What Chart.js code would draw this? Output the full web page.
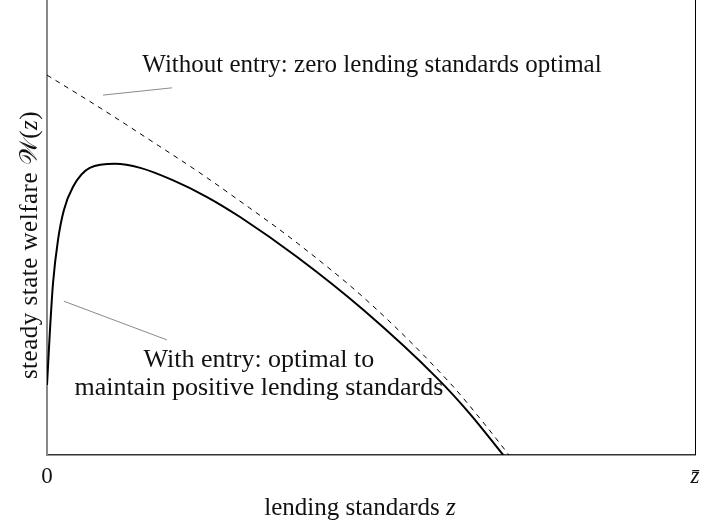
<!DOCTYPE html>
<html>
<head>
<meta charset="utf-8">
<script src="https://cdn.jsdelivr.net/npm/chart.js@4.4.1/dist/chart.umd.min.js"></script>
<style>
  body { margin: 0; background: #fff; }
  #wrap { width: 701px; height: 527px; }
</style>
</head>
<body>
<div id="wrap"><canvas id="grafico"></canvas></div>
<script>
// lending standards z (0 .. z bar = 1), welfare in arbitrary units (0 .. 1)
var zConEntrada = [0, 0.0023, 0.0046, 0.0093, 0.017, 0.026, 0.040, 0.066, 0.105, 0.144, 0.194, 0.247, 0.298, 0.386, 0.488, 0.602, 0.653, 0.704];
var wConEntrada = [0.154, 0.215, 0.275, 0.378, 0.473, 0.538, 0.589, 0.631, 0.640, 0.631, 0.604, 0.567, 0.523, 0.435, 0.319, 0.169, 0.090, 0.0];

var zSinEntrada = [0, 0.0818, 0.159, 0.236, 0.287, 0.386, 0.498, 0.622, 0.669, 0.713];
var wSinEntrada = [0.835, 0.763, 0.692, 0.620, 0.569, 0.466, 0.334, 0.158, 0.079, 0.0];

var ticksX = [0, 1];
var etiquetasX = ['0', 'z\u0304'];

// leader lines of the two notes
var lineaSin = [[0.0864, 0.791], [0.193, 0.807]];
var lineaCon = [[0.026, 0.338], [0.185, 0.253]];

var notaSin = { z: 0.5015, w: 0.842, tam: 25, lineas: ['Without entry: zero lending standards optimal'] };
var notaCon = { z: 0.327, w: 0.193, tam: 26, lineas: ['With entry: optimal to', 'maintain positive lending standards'] };

var fuente = '"Liberation Serif", "DejaVu Serif", serif';
var tam = 25;

const puntos = (xs, ys) => xs.map((x, i) => ({ x: x, y: ys[i] }));
const parLinea = (l) => l.map(p => ({ x: p[0], y: p[1] }));

// text with some italic parts: partes = [[texto, italica], ...]
function textoMixto(ctx, partes, x, y, size) {
    let total = 0;
    partes.forEach(p => {
        ctx.font = (p[1] ? 'italic ' : '') + size + 'px ' + fuente;
        total += ctx.measureText(p[0]).width;
    });
    let pos = x - total / 2;
    partes.forEach(p => {
        ctx.font = (p[1] ? 'italic ' : '') + size + 'px ' + fuente;
        ctx.fillText(p[0], pos, y);
        pos += ctx.measureText(p[0]).width;
    });
}

const extras = {
    id: 'extras',
    afterDraw(chart) {
        const ctx = chart.ctx;
        const a = chart.chartArea;
        const sx = chart.scales.x, sy = chart.scales.y;
        ctx.save();
        // right frame line
        ctx.strokeStyle = '#000';
        ctx.lineWidth = 1;
        ctx.beginPath();
        ctx.moveTo(a.right + 0.5, a.top);
        ctx.lineTo(a.right + 0.5, a.bottom);
        ctx.stroke();

        ctx.fillStyle = '#111';
        ctx.textBaseline = 'alphabetic';
        // notes
        [notaSin, notaCon].forEach(n => {
            ctx.font = n.tam + 'px ' + fuente;
            ctx.textAlign = 'center';
            let px = sx.getPixelForValue(n.z);
            let py = sy.getPixelForValue(n.w);
            n.lineas.forEach((t, i) => ctx.fillText(t, px, py + i * 28));
        });

        ctx.textAlign = 'left';
        // x title
        textoMixto(ctx, [['lending standards ', false], ['z', true]], 360, 515, tam);
        // y title
        ctx.translate(37, 245);
        ctx.rotate(-Math.PI / 2);
        ctx.letterSpacing = '0.5px';
        textoMixto(ctx, [['steady state welfare ', false], ['\uD835\uDCB2', false], ['(', false], ['z', true], [')', false]], 0, 0, tam);
        ctx.restore();
    }
};

const ctx = document.getElementById('grafico');
let grafico = new Chart(ctx, {
    type: 'line',
    data: {
        datasets: [{
            label: 'With entry',
            data: puntos(zConEntrada, wConEntrada),
            borderColor: '#000',
            borderWidth: 2,
            pointRadius: 0,
            cubicInterpolationMode: 'monotone'
        }, {
            label: 'Without entry',
            data: puntos(zSinEntrada, wSinEntrada),
            borderColor: '#000',
            borderWidth: 1,
            borderDash: [5, 5],
            pointRadius: 0,
            cubicInterpolationMode: 'monotone'
        }, {
            label: 'nota sin',
            data: parLinea(lineaSin),
            borderColor: '#8a8a8a',
            borderWidth: 1,
            pointRadius: 0
        }, {
            label: 'nota con',
            data: parLinea(lineaCon),
            borderColor: '#8a8a8a',
            borderWidth: 1,
            pointRadius: 0
        }]
    },
    options: {
        responsive: true,
        maintainAspectRatio: false,
        animation: false,
        events: [],
        layout: { padding: { top: 0, right: 0, left: 0, bottom: 0 } },
        plugins: { legend: { display: false }, tooltip: { enabled: false } },
        scales: {
            x: {
                type: 'linear',
                min: 0,
                max: 1,
                afterBuildTicks: (s) => { s.ticks = ticksX.map(v => ({ value: v })); },
                afterFit: (s) => { s.height = 72; s.paddingRight = 6; s.paddingLeft = 0; },
                grid: { display: false, drawTicks: false },
                border: { display: true, color: '#333', width: 1.5 },
                ticks: {
                    padding: 8,
                    maxRotation: 0,
                    color: '#111',
                    font: (c) => ({ family: fuente, size: 23, style: c.tick && c.tick.value === 1 ? 'italic' : 'normal' }),
                    callback: (v) => etiquetasX[ticksX.indexOf(v)]
                }
            },
            y: {
                type: 'linear',
                min: 0,
                max: 1,
                afterFit: (s) => { s.width = 47; },
                grid: { display: false, drawTicks: false },
                border: { display: true, color: '#888', width: 2 },
                ticks: { display: false }
            }
        }
    },
    plugins: [extras]
});
</script>
</body>
</html>
